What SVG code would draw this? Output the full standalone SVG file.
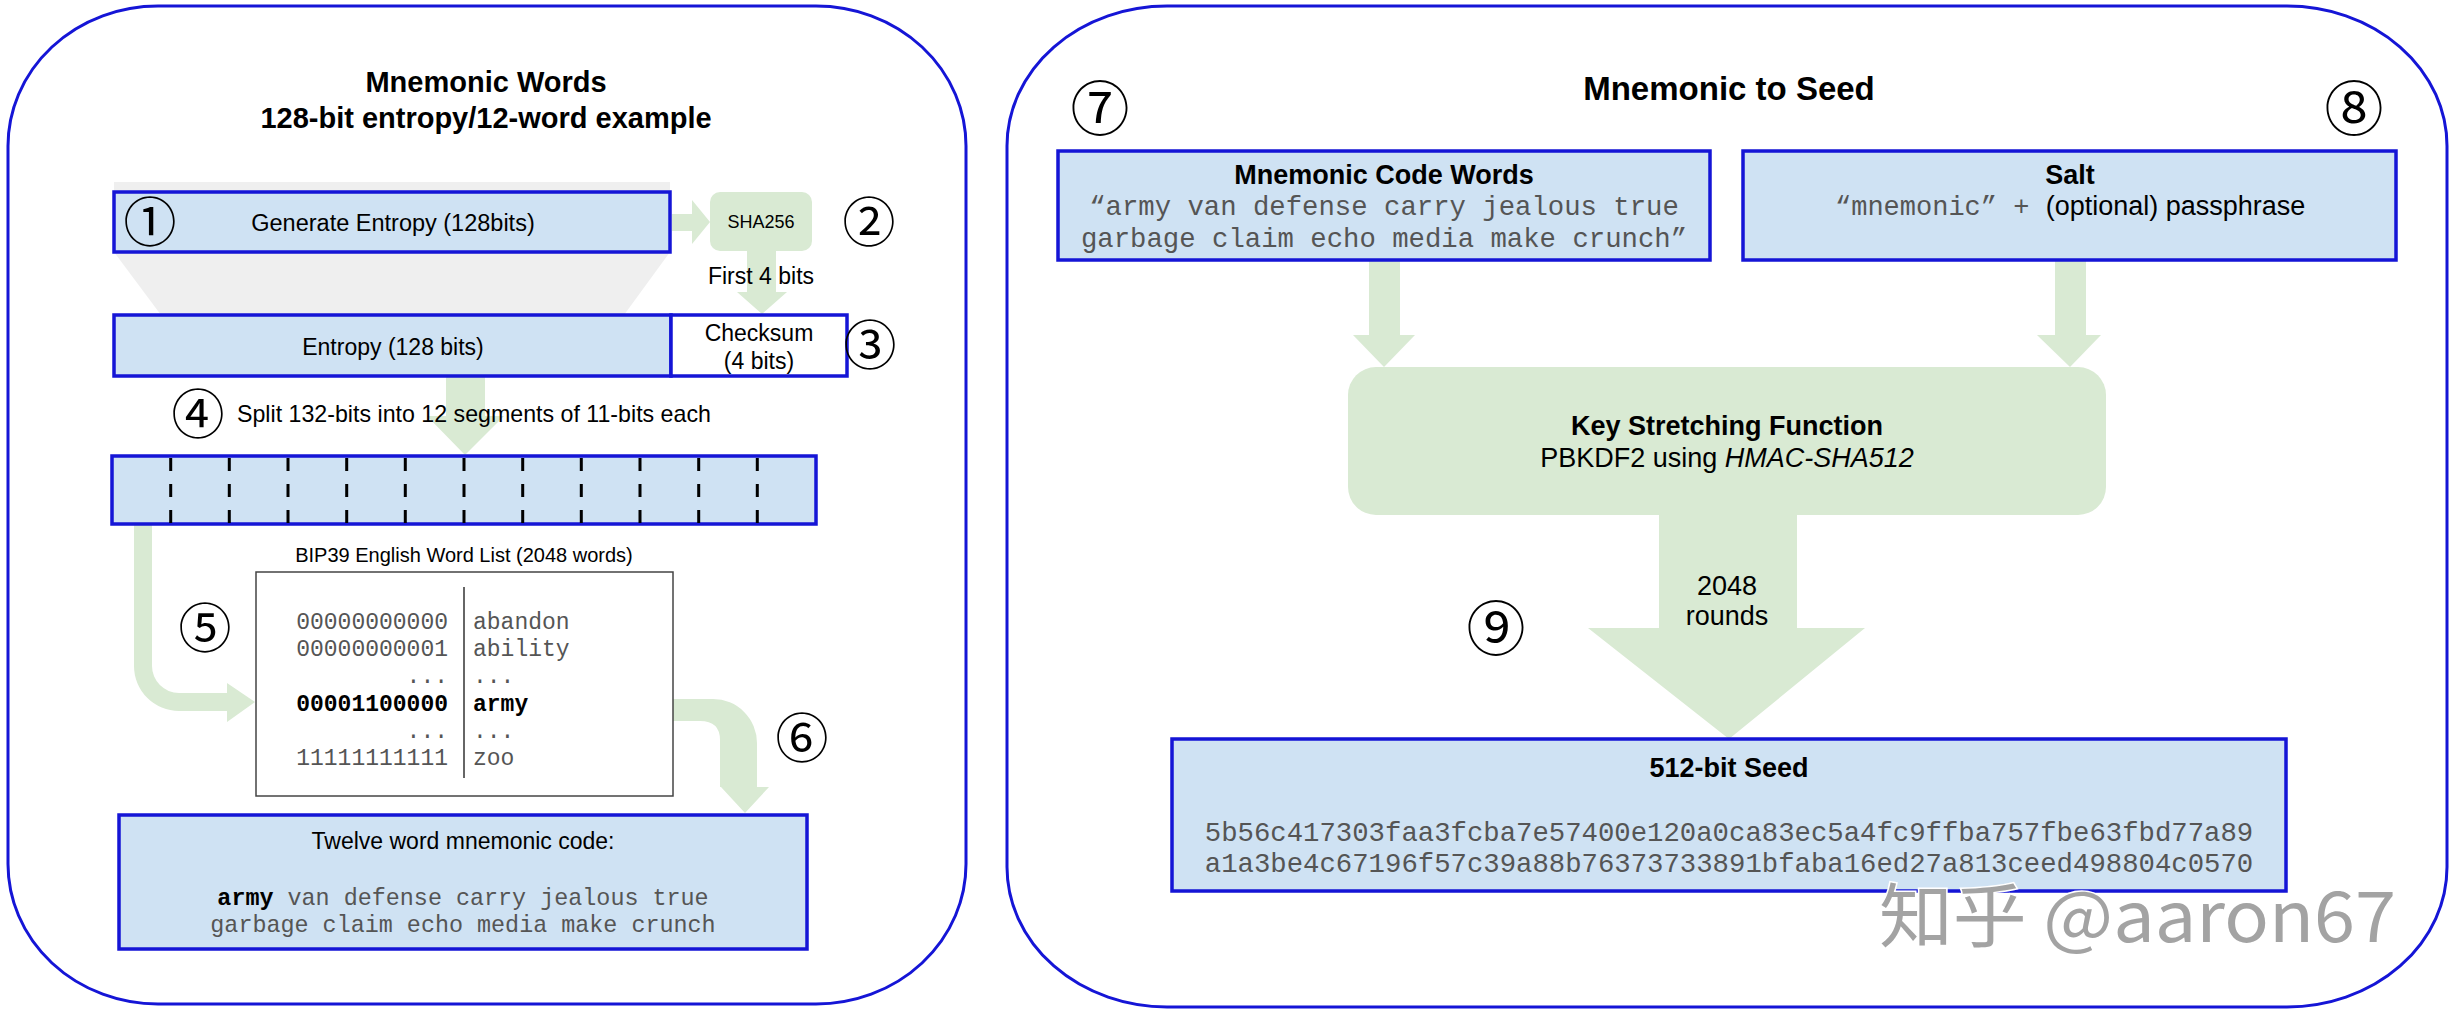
<svg xmlns="http://www.w3.org/2000/svg" width="2459" height="1015" viewBox="0 0 2459 1015">
<style>
.panel{fill:#fff;stroke:#1515d6;stroke-width:3}
.box{fill:#cfe2f3;stroke:#1515d6;stroke-width:3.5}
.wbox{fill:#fff;stroke:#1515d6;stroke-width:3.5}
.grn{fill:#d9ead3}
.s{font-family:"Liberation Sans",Arial,sans-serif;fill:#000}
.b{font-weight:bold}
.m{font-family:"Liberation Mono","Courier New",monospace;fill:#555}
.mb{font-family:"Liberation Mono","Courier New",monospace;fill:#000;font-weight:bold}
.c{font-family:"Noto Sans CJK JP","Noto Sans CJK SC",sans-serif;fill:#000}
.dash{stroke:#000;stroke-width:3;stroke-dasharray:13 13}
</style>
<rect width="2459" height="1015" fill="#fff"/>

<g id="panel-left">
  <rect class="panel" x="8" y="6" width="958" height="998" rx="150" ry="140"/>
  <text class="s b" x="486" y="92" font-size="29" text-anchor="middle">Mnemonic Words</text>
  <text class="s b" x="486" y="128" font-size="29" text-anchor="middle">128-bit entropy/12-word example</text>
</g>
<g id="panel-right">
  <rect class="panel" x="1007" y="6" width="1440" height="1001" rx="160" ry="140"/>
  <text class="s b" x="1729" y="100" font-size="33" text-anchor="middle">Mnemonic to Seed</text>
</g>

<g id="funnel">
  <polygon points="114,182 670,182 670,252 624,315 161,315 114,252" fill="#efefef"/>
</g>

<g id="connectors">
  <polygon class="grn" points="672,214 692,214 692,200 710,222 692,244 692,231 672,231"/>
  <polygon class="grn" points="747,250 776,250 776,292 787,292 762,314 737,292 747,292"/>
  <polygon class="grn" points="446,376 485,376 485,416 504,416 465,455 427,416 446,416"/>
  <path class="grn" d="M134,524 L152,524 L152,666 A27,27 0 0 0 179,693 L227,693 L227,683 L255,702 L227,722 L227,711 L179,711 A45,45 0 0 1 134,666 Z"/>
  <path class="grn" d="M673,699 L713,699 A44,44 0 0 1 757,743 L757,787 L769,787 L745,813 L721,787 L720,787 L720,740 Q720,721 700,721 L673,721 Z"/>
  <polygon class="grn" points="1369,260 1400,260 1400,335 1415,335 1384,367 1353,335 1369,335"/>
  <polygon class="grn" points="2055,260 2086,260 2086,335 2101,335 2070,367 2037,335 2055,335"/>
  <polygon class="grn" points="1659,512 1797,512 1797,628 1865,628 1729,739 1588,628 1659,628"/>
  <text class="s" x="761" y="284" font-size="23" text-anchor="middle">First 4 bits</text>
  <text class="s" x="1727" y="595" font-size="27" text-anchor="middle">2048</text>
  <text class="s" x="1727" y="625" font-size="27" text-anchor="middle">rounds</text>
</g>

<g id="step1-generate-entropy">
  <rect class="box" x="114" y="192" width="556" height="60"/>
  <text class="s" x="393" y="231" font-size="23.5" text-anchor="middle">Generate Entropy (128bits)</text>
  <text class="c" x="150" y="242" font-size="53" text-anchor="middle">①</text>
</g>
<g id="step2-sha256">
  <rect class="grn" x="710" y="192" width="102" height="59" rx="10"/>
  <text class="s" x="761" y="228" font-size="18" text-anchor="middle">SHA256</text>
  <text class="c" x="869" y="242" font-size="53" text-anchor="middle">②</text>
</g>
<g id="step3-entropy-checksum">
  <rect class="box" x="114" y="315" width="557" height="61"/>
  <rect class="wbox" x="671" y="315" width="176" height="61"/>
  <text class="s" x="393" y="355" font-size="23" text-anchor="middle">Entropy (128 bits)</text>
  <text class="s" x="759" y="341" font-size="23" text-anchor="middle">Checksum</text>
  <text class="s" x="759" y="369" font-size="23" text-anchor="middle">(4 bits)</text>
  <text class="c" x="870" y="365" font-size="53" text-anchor="middle">③</text>
</g>
<g id="step4-split">
  <text class="c" x="198" y="434" font-size="53" text-anchor="middle">④</text>
  <text class="s" x="237" y="422" font-size="23.2">Split 132-bits into 12 segments of 11-bits each</text>
  <rect class="box" x="112" y="456" width="704" height="68"/>
  <g class="dash">
    <line x1="170.7" y1="458" x2="170.7" y2="524"/>
    <line x1="229.3" y1="458" x2="229.3" y2="524"/>
    <line x1="288" y1="458" x2="288" y2="524"/>
    <line x1="346.7" y1="458" x2="346.7" y2="524"/>
    <line x1="405.3" y1="458" x2="405.3" y2="524"/>
    <line x1="464" y1="458" x2="464" y2="524"/>
    <line x1="522.7" y1="458" x2="522.7" y2="524"/>
    <line x1="581.3" y1="458" x2="581.3" y2="524"/>
    <line x1="640" y1="458" x2="640" y2="524"/>
    <line x1="698.7" y1="458" x2="698.7" y2="524"/>
    <line x1="757.3" y1="458" x2="757.3" y2="524"/>
  </g>
</g>
<g id="step5-wordlist">
  <text class="c" x="205" y="648" font-size="53" text-anchor="middle">⑤</text>
  <text class="s" x="464" y="562" font-size="20" text-anchor="middle">BIP39 English Word List (2048 words)</text>
  <rect x="256" y="572" width="417" height="224" fill="#fff" stroke="#444" stroke-width="1.5"/>
  <line x1="464" y1="587" x2="464" y2="778" stroke="#333" stroke-width="1.5"/>
  <g font-size="23">
    <text class="m" x="448" y="629" text-anchor="end">00000000000</text>
    <text class="m" x="473" y="629">abandon</text>
    <text class="m" x="448" y="656" text-anchor="end">00000000001</text>
    <text class="m" x="473" y="656">ability</text>
    <text class="m" x="448" y="683" text-anchor="end">...</text>
    <text class="m" x="473" y="683">...</text>
    <text class="mb" x="448" y="711" text-anchor="end">00001100000</text>
    <text class="mb" x="473" y="711">army</text>
    <text class="m" x="448" y="738" text-anchor="end">...</text>
    <text class="m" x="473" y="738">...</text>
    <text class="m" x="448" y="765" text-anchor="end">11111111111</text>
    <text class="m" x="473" y="765">zoo</text>
  </g>
</g>
<g id="step6-mnemonic-code">
  <text class="c" x="802" y="758" font-size="53" text-anchor="middle">⑥</text>
  <rect class="box" x="119" y="815" width="688" height="134"/>
  <text class="s" x="463" y="849" font-size="23" text-anchor="middle">Twelve word mnemonic code:</text>
  <text class="m" x="463" y="905" font-size="23.4" text-anchor="middle"><tspan class="mb">army</tspan> van defense carry jealous true</text>
  <text class="m" x="463" y="932" font-size="23.4" text-anchor="middle">garbage claim echo media make crunch</text>
</g>

<g id="step7-mnemonic-code-words">
  <text class="c" x="1100" y="130" font-size="59" text-anchor="middle">⑦</text>
  <rect class="box" x="1058" y="151" width="652" height="109"/>
  <text class="s b" x="1384" y="184" font-size="27" text-anchor="middle">Mnemonic Code Words</text>
  <text class="m" x="1384" y="215" font-size="27.3" text-anchor="middle">“army van defense carry jealous true</text>
  <text class="m" x="1384" y="247" font-size="27.3" text-anchor="middle">garbage claim echo media make crunch”</text>
</g>
<g id="step8-salt">
  <text class="c" x="2354" y="130" font-size="59" text-anchor="middle">⑧</text>
  <rect class="box" x="1743" y="151" width="653" height="109"/>
  <text class="s b" x="2070" y="184" font-size="27" text-anchor="middle">Salt</text>
  <text x="1835" y="215" font-size="27"><tspan class="m">“mnemonic” + </tspan><tspan class="s">(optional) passphrase</tspan></text>
</g>
<g id="key-stretching">
  <rect class="grn" x="1348" y="367" width="758" height="148" rx="28"/>
  <text class="s b" x="1727" y="435" font-size="27" text-anchor="middle">Key Stretching Function</text>
  <text class="s" x="1727" y="467" font-size="27" text-anchor="middle">PBKDF2 using <tspan font-style="italic">HMAC-SHA512</tspan></text>
</g>
<g id="step9-seed">
  <text class="c" x="1496" y="650" font-size="59" text-anchor="middle">⑨</text>
  <rect class="box" x="1172" y="739" width="1114" height="152"/>
  <text class="s b" x="1729" y="777" font-size="27" text-anchor="middle">512-bit Seed</text>
  <text class="m" x="1729" y="841" font-size="27.3" text-anchor="middle">5b56c417303faa3fcba7e57400e120a0ca83ec5a4fc9ffba757fbe63fbd77a89</text>
  <text class="m" x="1729" y="872" font-size="27.3" text-anchor="middle">a1a3be4c67196f57c39a88b76373733891bfaba16ed27a813ceed498804c0570</text>
</g>

<g id="watermark">
  <text x="1879" y="942" font-size="70" textLength="517" lengthAdjust="spacingAndGlyphs" font-family="Noto Sans CJK SC, sans-serif" fill="#a3a3a3" stroke="#ffffff" stroke-width="3" paint-order="stroke">知乎 @aaron67</text>
</g>
</svg>
